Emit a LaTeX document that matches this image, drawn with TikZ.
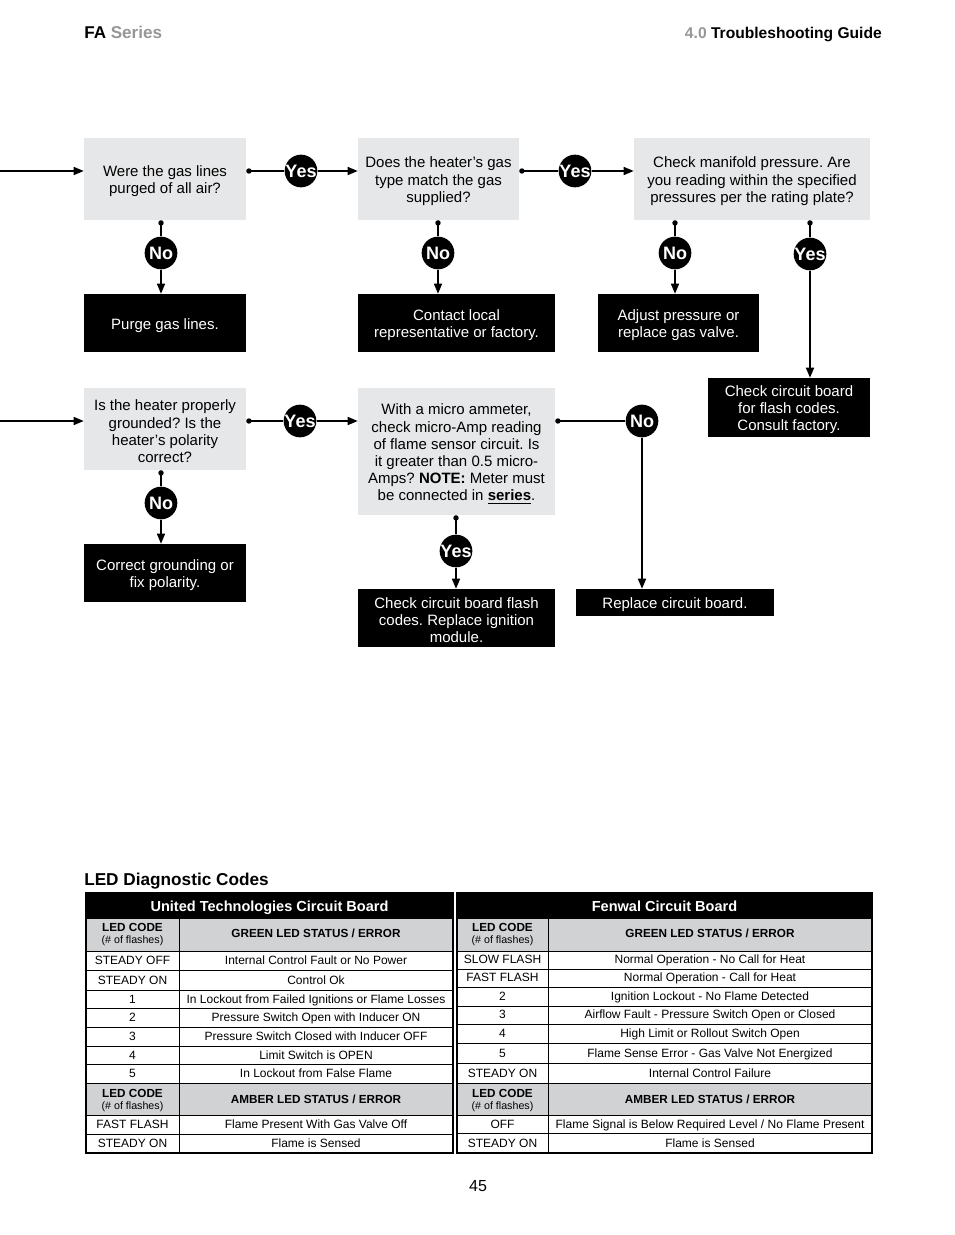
\documentclass[tikz,border=0pt]{standalone}
\usepackage{fontspec}
\setmainfont{Liberation Sans}
\usetikzlibrary{arrows.meta}
\definecolor{boxgray}{RGB}{230,231,232}
\definecolor{hdgray}{RGB}{209,210,212}
\definecolor{txtgray}{RGB}{150,150,150}
\newcommand\tstrut{\rule{0pt}{11.6pt}}
\begin{document}
\frenchspacing
\begin{tikzpicture}[x=0.75pt,y=-0.75pt,
  bx/.style 2 args={minimum width=#1*0.75pt, minimum height=#2*0.75pt},
  q/.style={fill=boxgray, inner sep=0pt, align=center, font=\fontsize{11.25}{12.9}\selectfont},
  a/.style={fill=black, text=white, inner sep=0pt, align=center, font=\fontsize{11.25}{12.9}\selectfont},
  yn/.style={circle, fill=black, text=white, inner sep=0pt, minimum size=24.5pt, font=\bfseries\fontsize{13.5}{13.5}\selectfont},
  arr/.style={line width=1pt, -{Triangle[length=7.5pt,width=6pt]}},
  dl/.style={line width=1pt, {Circle[length=4pt]}-},
  tc/.style={inner sep=0pt, text height=6.5pt, text depth=0pt, font=\fontsize{9}{10}\selectfont},
  th/.style={inner sep=0pt, align=center, font=\bfseries\fontsize{8.8}{10.5}\selectfont},
  thc/.style={inner sep=0pt, text height=6.3pt, text depth=0pt, font=\bfseries\fontsize{8.8}{10.5}\selectfont},
  tt/.style={inner sep=0pt, text=white, text height=7.8pt, text depth=0pt, font=\bfseries\fontsize{10.9}{12}\selectfont},
  grid/.style={line width=0.75pt},
]
\useasboundingbox (0,0) rectangle (954,1235);

% header
\node[anchor=base west, inner sep=0pt, font=\bfseries\fontsize{12.8}{14}\selectfont] (hl) at (84,38.5) {FA \textcolor{txtgray}{Series}};
\node[anchor=base east, inner sep=0pt, font=\bfseries\fontsize{11.7}{14}\selectfont] (hr) at (882,38.5) {\textcolor{txtgray}{4.0} Troubleshooting Guide};

% flowchart boxes
\node[q, bx={162}{82}] (Q1) at (165,179) {\tstrut Were the gas lines\\purged of all air?};
\node[q, bx={161}{82}] (Q2) at (438.5,179) {\tstrut Does the heater’s gas\\type match the gas\\supplied?};
\node[q, bx={236}{82}] (Q3) at (752,179) {\tstrut Check manifold pressure. Are\\you reading within the specified\\pressures per the rating plate?};
\node[a, bx={162}{58}] (A1) at (165,323) {\tstrut Purge gas lines.};
\node[a, bx={197}{58}] (A2) at (456.5,323) {\tstrut Contact local\\representative or factory.};
\node[a, bx={161}{58}] (A3) at (678.5,323) {\tstrut Adjust pressure or\\replace gas valve.};
\node[a, bx={162}{59}] (A4) at (789,407.5) {\tstrut Check circuit board\\for flash codes.\\Consult factory.};
\node[q, bx={162}{82}] (Q4) at (165,429) {\tstrut Is the heater properly\\grounded? Is the\\heater’s polarity\\correct?};
\node[q, bx={197}{127}] (Q5) at (456.5,451.5) {\tstrut With a micro ammeter,\\check micro-Amp reading\\of flame sensor circuit. Is\\it greater than 0.5 micro-\\Amps? \textbf{NOTE:} Meter must\\be connected in \underline{\textbf{series}}.};
\node[a, bx={162}{58}] (A5) at (165,573) {\tstrut Correct grounding or\\fix polarity.};
\node[a, bx={197}{58}] (A6) at (456.5,618) {\tstrut Check circuit board flash\\codes. Replace ignition\\module.};
\node[a, bx={198}{27}] (A7) at (675,602.5) {\tstrut Replace circuit board.};

% yes / no circles
\node[yn] (y1) at (301,171) {\makebox[0pt]{Yes}};
\node[yn] (y2) at (575,171) {\makebox[0pt]{Yes}};
\node[yn] (n1) at (161,253) {\makebox[0pt]{No}};
\node[yn] (n2) at (438,253) {\makebox[0pt]{No}};
\node[yn] (n3) at (675,253) {\makebox[0pt]{No}};
\node[yn] (y3) at (810,254) {\makebox[0pt]{Yes}};
\node[yn] (y4) at (300,421) {\makebox[0pt]{Yes}};
\node[yn] (n4) at (161,503) {\makebox[0pt]{No}};
\node[yn] (n5) at (642,421) {\makebox[0pt]{No}};
\node[yn] (y5) at (456,551) {\makebox[0pt]{Yes}};

\coordinate (e1) at (0,171);
\coordinate (e2) at (0,421);

% connectors
\draw[arr] (e1) -- (Q1.west |- e1);
\draw[dl] (Q1.east |- y1) -- (y1);
\draw[arr] (y1) -- (Q2.west |- y1);
\draw[dl] (Q2.east |- y2) -- (y2);
\draw[arr] (y2) -- (Q3.west |- y2);
\draw[dl] (Q1.south -| n1) -- (n1);
\draw[arr] (n1) -- (n1 |- A1.north);
\draw[dl] (Q2.south -| n2) -- (n2);
\draw[arr] (n2) -- (n2 |- A2.north);
\draw[dl] (Q3.south -| n3) -- (n3);
\draw[arr] (n3) -- (n3 |- A3.north);
\draw[dl] (Q3.south -| y3) -- (y3);
\draw[arr] (y3) -- (y3 |- A4.north);
\draw[arr] (e2) -- (Q4.west |- e2);
\draw[dl] (Q4.east |- y4) -- (y4);
\draw[arr] (y4) -- (Q5.west |- y4);
\draw[dl] (Q4.south -| n4) -- (n4);
\draw[arr] (n4) -- (n4 |- A5.north);
\draw[dl] (Q5.east |- n5) -- (n5);
\draw[arr] (n5) -- (n5 |- A7.north);
\draw[dl] (Q5.south -| y5) -- (y5);
\draw[arr] (y5) -- (y5 |- A6.north);

% table title
\node[anchor=base west, inner sep=0pt, font=\bfseries\fontsize{12.9}{14}\selectfont] (ttl) at (84,885) {LED Diagnostic Codes};

% left table backgrounds
\fill[black] (86,893) rectangle (453,919);
\fill[hdgray] (86,919) rectangle (453,951);
\fill[hdgray] (86,1083) rectangle (453,1115);
\foreach \yy in {951,970,990,1008,1027,1046,1064,1083,1115,1134}
  \draw[grid] (86,\yy) -- (453,\yy);
\draw[grid] (179,919) -- (179,1153);
\draw[line width=1.5pt] (86,893) rectangle (453,1153);

% right table backgrounds
\fill[black] (457,893) rectangle (872,919);
\fill[hdgray] (457,919) rectangle (872,951);
\fill[hdgray] (457,1083) rectangle (872,1115);
\foreach \yy in {951,969,987,1006,1024,1043,1063,1083,1115,1133}
  \draw[grid] (457,\yy) -- (872,\yy);
\draw[grid] (548,919) -- (548,1153);
\draw[line width=1.5pt] (457,893) rectangle (872,1153);

% left table text
\node[tt] (LT) at (269.5,906) {United Technologies Circuit Board};
\node[th] (LH1) at (132.5,934.5) {LED CODE\\[-1pt]{\mdseries\fontsize{8}{8.5}\selectfont (\# of flashes)}};
\node[thc] (LH2) at (316,933.5) {GREEN LED STATUS / ERROR};
\node[tc] (L1a) at (132.5,960.5) {STEADY OFF};
\node[tc] (L1b) at (316,960.5) {Internal Control Fault or No Power};
\node[tc] (L2a) at (132.5,980) {STEADY ON};
\node[tc] (L2b) at (316,980) {Control Ok};
\node[tc] (L3a) at (132.5,999) {1};
\node[tc] (L3b) at (316,999) {In Lockout from Failed Ignitions or Flame Losses};
\node[tc] (L4a) at (132.5,1017.5) {2};
\node[tc] (L4b) at (316,1017.5) {Pressure Switch Open with Inducer ON};
\node[tc] (L5a) at (132.5,1036.5) {3};
\node[tc] (L5b) at (316,1036.5) {Pressure Switch Closed with Inducer OFF};
\node[tc] (L6a) at (132.5,1055) {4};
\node[tc] (L6b) at (316,1055) {Limit Switch is OPEN};
\node[tc] (L7a) at (132.5,1073.5) {5};
\node[tc] (L7b) at (316,1073.5) {In Lockout from False Flame};
\node[th] (LH3) at (132.5,1100.5) {LED CODE\\[-1pt]{\mdseries\fontsize{8}{8.5}\selectfont (\# of flashes)}};
\node[thc] (LH4) at (316,1099.5) {AMBER LED STATUS / ERROR};
\node[tc] (L8a) at (132.5,1124.5) {FAST FLASH};
\node[tc] (L8b) at (316,1124.5) {Flame Present With Gas Valve Off};
\node[tc] (L9a) at (132.5,1143.5) {STEADY ON};
\node[tc] (L9b) at (316,1143.5) {Flame is Sensed};

% right table text
\node[tt] (RT) at (664.5,906) {Fenwal Circuit Board};
\node[th] (RH1) at (502.5,934.5) {LED CODE\\[-1pt]{\mdseries\fontsize{8}{8.5}\selectfont (\# of flashes)}};
\node[thc] (RH2) at (710,933.5) {GREEN LED STATUS / ERROR};
\node[tc] (R1a) at (502.5,959.5) {SLOW FLASH};
\node[tc] (R1b) at (710,959.5) {Normal Operation - No Call for Heat};
\node[tc] (R2a) at (502.5,977.5) {FAST FLASH};
\node[tc] (R2b) at (710,977.5) {Normal Operation - Call for Heat};
\node[tc] (R3a) at (502.5,996) {2};
\node[tc] (R3b) at (710,996) {Ignition Lockout - No Flame Detected};
\node[tc] (R4a) at (502.5,1014.5) {3};
\node[tc] (R4b) at (710,1014.5) {Airflow Fault - Pressure Switch Open or Closed};
\node[tc] (R5a) at (502.5,1033.5) {4};
\node[tc] (R5b) at (710,1033.5) {High Limit or Rollout Switch Open};
\node[tc] (R6a) at (502.5,1053) {5};
\node[tc] (R6b) at (710,1053) {Flame Sense Error - Gas Valve Not Energized};
\node[tc] (R7a) at (502.5,1073) {STEADY ON};
\node[tc] (R7b) at (710,1073) {Internal Control Failure};
\node[th] (RH3) at (502.5,1100.5) {LED CODE\\[-1pt]{\mdseries\fontsize{8}{8.5}\selectfont (\# of flashes)}};
\node[thc] (RH4) at (710,1099.5) {AMBER LED STATUS / ERROR};
\node[tc] (R8a) at (502.5,1124) {OFF};
\node[tc] (R8b) at (710,1124) {Flame Signal is Below Required Level / No Flame Present};
\node[tc] (R9a) at (502.5,1143) {STEADY ON};
\node[tc] (R9b) at (710,1143) {Flame is Sensed};

% page number
\node[inner sep=0pt, font=\fontsize{12}{14}\selectfont] (pg) at (478,1186) {45};
\end{tikzpicture}
\end{document}
